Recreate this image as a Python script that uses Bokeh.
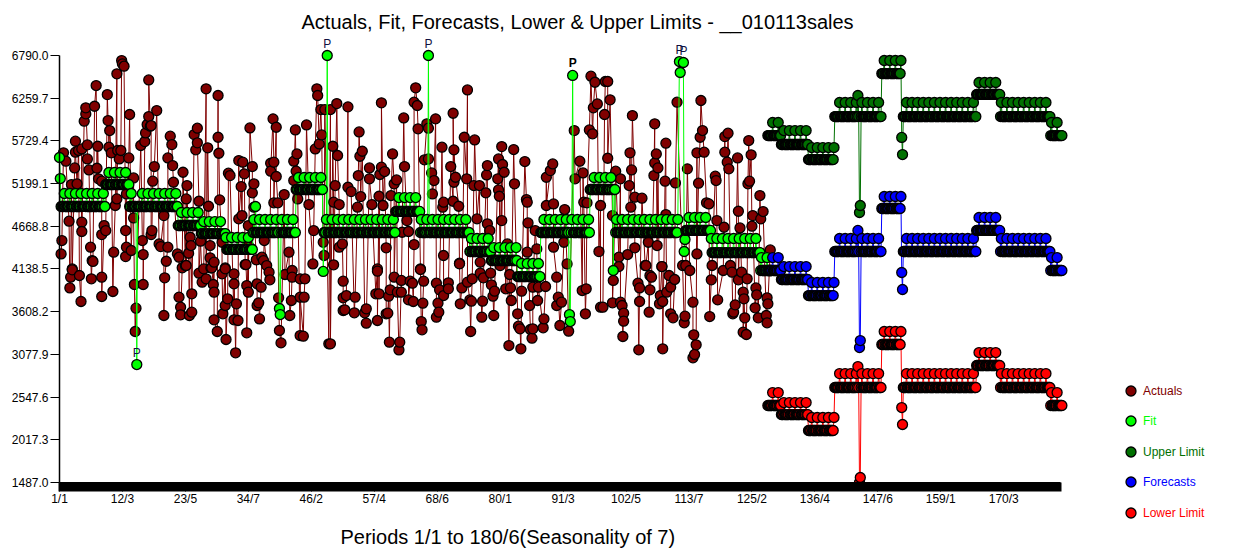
import numpy as np
from bokeh.plotting import figure
from bokeh.embed import file_html
from bokeh.resources import INLINE
from bokeh.models import Range1d, FixedTicker, Title, Legend, LegendItem, ColumnDataSource, NumeralTickFormatter
from bokeh.core.properties import value

title_text = "Actuals, Fit, Forecasts, Lower & Upper Limits - __010113sales"
xlabel_text = "Periods 1/1 to 180/6(Seasonality of 7)"
y_ticks = [1487.0, 2017.3, 2547.6, 3077.9, 3608.2, 4138.5, 4668.8, 5199.1, 5729.4, 6259.7, 6790.0]
x_tick_periods = [1, 80, 159, 238, 317, 396, 475, 554, 633, 712, 791, 870, 949, 1028, 1107, 1186]
x_tick_labels = ["1/1", "12/3", "23/5", "34/7", "46/2", "57/4", "68/6", "80/1", "91/3", "102/5", "113/7", "125/2", "136/4", "147/6", "159/1", "170/3"]
last_period = 1257

# Actuals as (period, value)
actual_readings = [
(4,4492),(3,4326),(6,5581),(9,5477),(16,5187),(23,5196),(20,5394),(21,5726),(21,5589),(13,4732),(17,4140),(25,5610),(29,5630),(32,5974),(34,6065),(34,6140),(36,5680),(36,5506),(38,5369),(29,4720),(29,4604),(40,4409),(42,4243),(45,6160),(47,6417),(49,5663),(48,5390),(50,5258),(54,5229),(57,4678),(59,4616),(54,4566),(62,5982),(64,5858),(61,6305),(63,5651),(66,5581),(69,4347),(73,6562),(73,5009),(71,4927),(74,5610),(79,6727),(80,6686),(82,6657),(78,5610),(76,5506),(84,4616),(85,4409),(84,4293),(85,5071),(88,5518),(89,6057),(91,4368),(94,5270),(94,4773),(103,5672),(105,4492),(106,4318),(108,5721),(109,5829),(111,5933),(113,6032),(115,5912),(113,6487),(116,5920),(117,4616),(116,4566),(120,5411),(118,5229),(123,6106),(126,4450),(128,4417),(132,4802),(135,4235),(137,4409),(137,5518),(140,5788),(142,5684),(143,5423),(144,5216),(156,5340),(161,5175),(160,5009),(149,4326),(151,4285),(165,4533),(166,4430),(163,4334),(159,4181),(170,5808),(174,5887),(174,5705),(172,5618),(187,5643),(185,6376),(176,4980),(188,4918),(178,4484),(190,4430),(190,4277),(195,4223),(191,4152),(200,6293),(200,5775),(201,5576),(202,4997),(205,4471),(209,4152),(213,5328),(215,5299),(226,5485),(231,5465),(233,5320),(229,5162),(230,4802),(226,4761),(240,5891),(243,5411),(245,5196),(243,5084),(245,4906),(238,4678),(234,4194),(238,4430),(248,4252),(255,4285),(257,4243),(261,4181),(258,4492),(269,6003),(273,5899),(266,5452),(270,5465),(266,5353),(273,5287),(270,4960),(275,4960),(289,4347),(283,5063),(297,5866),(299,5568),(295,5477),(298,5353),(295,5237),(300,5009),
(17,4128),(15,4037),(14,3904),(26,4058),(28,3735),(43,4232),(41,4016),(54,4037),(54,3797),(68,3859),(95,3946),(106,3946),(97,3652),(96,3362),(133,4029),(132,3561),(151,3789),(153,3664),(153,3569),(155,4153),(167,3830),(160,4182),(167,3602),(164,3561),(180,3975),(176,4087),(182,4140),(185,4016),(192,4153),(194,3946),(195,3851),(195,3507),(199,3362),(206,3582),(209,3685),(210,3263),(212,3768),(205,4078),(209,4140),(220,3507),(225,3499),(220,3954),(220,4078),(223,3706),(222,3097),(235,4194),(236,3933),(238,3851),(236,3346),(249,3954),(254,3913),(251,3718),(249,3685),(252,3519),(264,4099),(265,4004),(284,4070),(293,4120),(293,4037),(276,3780),(292,3747),(290,3561),(277,3375),(279,3221),(303,3312),(303,4016),(303,3789),
(311,5928),(324,6376),(325,6293),(322,5630),(327,5692),(330,5804),(329,6119),(334,6119),(341,6119),(349,6193),(363,6152),(344,5663),(350,5548),(347,5175),(345,4968),(352,4939),(314,4939),(320,4616),(332,4471),(333,4306),(319,4202),(345,4190),(356,4450),(352,4409),(377,5841),(381,5601),(378,5539),(376,5299),(363,5154),(367,5100),(379,5038),(375,4906),(390,5394),(390,5258),(393,4939),(402,5042),(407,4927),(405,5403),(409,5349),(403,5312),(405,6202),(419,5568),(424,5245),(421,5196),(417,5051),(433,6015),(434,5411),(437,4740),(439,4604),(431,4595),(446,4442),(411,4401),(400,4140),(448,6388),(446,6210),(450,6169),(451,5879),(462,5941),(464,5887),(473,6003),(459,5494),(464,5506),(468,5332),(471,5237),(469,5071),(481,5651),(492,5411),(483,4968),(482,4906),(495,4980),(502,4918),(498,5278),(496,5216),(495,6073),(496,5618),(509,5775),(522,5742),(513,6363),(512,5258),(483,4306),(503,4210),(454,4140),(521,5175),(528,5175),(536,5084),(525,4761),(538,5423),(537,5307),(552,5506),(557,5436),(559,5340),(551,5258),(552,5121),(553,5042),(556,5659),(571,5622),(572,5196),(585,5473),(587,5001),(588,4968),(556,4740),(538,4699),(541,4616),(589,4711),(588,4347),(600,4388),(598,4616),(529,4223),(563,4450),(554,4181),(612,5278),(617,5361),(620,5444),(612,4927),(621,4947),(621,4409),(635,4877),(634,4471),(638,4202),
(309,4016),(308,3789),(307,3304),(341,3209),(339,3209),(357,3987),(361,3809),(357,3780),(359,3631),(357,3623),(372,3789),(371,3594),(386,3644),(386,3466),(384,3594),(400,4112),(398,3830),(402,3830),(400,3499),(421,4037),(416,3880),(414,3801),(413,3590),(411,3582),(415,3230),(428,3230),(427,3134),(430,3996),(425,3851),(430,3851),(441,3987),(444,3962),(439,3755),(445,3735),(454,4132),(458,3987),(457,3714),(455,3486),(456,3383),(474,3962),(476,3714),(478,3880),(483,3809),(489,3967),(489,3892),(477,3602),(474,3540),(503,4203),(506,3904),(504,3706),(516,3755),(518,3739),(517,3362),(513,3975),(519,4016),(529,4087),(533,4029),(542,4087),(532,3739),(531,3540),(543,3942),(547,3863),(545,3801),(546,3561),(566,4070),(567,3904),(561,3892),(568,3747),(565,3188),(576,3582),(577,3428),(579,3395),(580,3147),(581,3863),(591,3685),(595,3395),(592,3387),(594,3279),(595,3913),(601,3747),(602,3913),(611,3921),(609,3519),(608,3408),(625,4037),(627,3789),(631,3727),(625,3685),(629,3437),
(647,5858),(654,5477),(658,5332),(648,5258),(668,6533),(673,6458),(686,6467),(689,6467),(692,6239),(676,6189),(671,6140),(685,6057),(666,5866),(670,5817),(689,5514),(699,5353),(705,5258),(659,4968),(663,4960),(680,4927),(720,6044),(717,5581),(719,5369),(716,5175),(723,5030),(732,5018),(748,5941),(762,5701),(750,5568),(748,5456),(752,5394),(747,5299),(761,5229),(774,5208),(776,6210),(789,5382),(806,6231),(808,5858),(805,5775),(801,5581),(810,5589),(803,5204),(824,5291),(825,5237),(813,4960),(816,4947),(826,4740),(835,4657),(840,5825),(836,5783),(836,5589),(839,5465),(841,5382),(852,5518),(866,5734),(869,5556),(867,5229),(865,5196),(880,5051),(853,4856),(871,4802),(884,4852),(881,4761),(870,4670),(855,4649),(678,4355),(703,4285),(714,4318),(723,4401),(740,4471),(751,4430),(737,4181),(757,4169),(801,4326),(695,4802),(718,4906),(762,4815),(893,4376),
(662,3892),(657,3871),(661,3582),(640,3366),(683,3664),(680,3664),(695,3718),(696,3996),(703,4169),(705,3727),(707,3685),(709,3590),(709,3491),(708,3300),(727,3962),(729,3904),(729,3735),(728,3134),(736,4182),(742,4058),(744,4037),(742,3880),(741,3602),(757,4169),(755,3809),(758,3735),(754,3706),(763,3851),(766,4058),(773,4008),(768,3913),(768,3582),(771,3532),(758,3147),(783,4182),(787,4182),(792,4120),(786,3553),(785,3470),(796,3727),(797,3321),(800,3197),(798,3077),(796,3035),(820,4182),(819,4004),(817,3548),(827,3755),(834,4120),(843,4182),(845,4099),(853,4004),(857,4099),(864,4016),(859,3851),(860,3768),(849,3693),(847,3602),(846,3582),(861,3532),(875,3904),(876,3818),(874,3656),(878,3532),(888,3561),(889,3470),(890,3706),(889,3780),(859,3354),(863,3325),
]

# Fit: runs of constant level (first period, last period, busy-day level, ordinary-day level)
fit_runs = [
(3,59,5076,4915),(59,89,5337,5188),(89,150,5076,4915),(150,179,4840,4679),(179,210,4728,4579),(210,244,4530,4381),
(244,298,4753,4592),(298,332,5275,5126),(332,423,4753,4592),(423,454,5026,4853),(454,516,4753,4592),(516,543,4517,4356),
(543,576,4405,4244),(576,605,4207,4045),(605,667,4753,4592),(667,699,5275,5126),(699,778,4753,4592),(787,819,4778,4617),
(819,881,4517,4343),(881,895,4281,4120),
]
fit_spikes = [(1,5523),(2,5262),(98,2952),(247,4915),(277,3648),(278,3573),(332,4108),(337,6790),(464,6790),(641,3573),(642,3486),(645,6542),(696,4120),(779,6715),(780,6579),(784,6703),(785,4356),(786,4505)]
fit_p_periods = [98, 337, 464, 779, 784]
fit_p_values = [2952, 6790, 6790, 6715, 6703]
fit_p_bold_periods = [645]
fit_p_bold_values = [6542]

# Forecast horizon runs: first period, last period
run_starts = [890, 907, 941, 974, 1033, 1058, 1152, 1182, 1245]
run_ends = [907, 941, 974, 1033, 1058, 1152, 1182, 1245, 1260]
upper_high = [5958, 5858, 5647, 6206, 6728, 6206, 6455, 6206, 5958]
upper_low = [5796, 5685, 5498, 6032, 6566, 6032, 6306, 6032, 5796]
forecast_high = [4281, 4169, 3971, 4517, 5039, 4517, 4778, 4517, 4281]
forecast_low = [4120, 4008, 3809, 4356, 4890, 4356, 4617, 4356, 4120]
lower_high = [2604, 2480, 2294, 2840, 3362, 2840, 3101, 2840, 2604]
lower_low = [2443, 2331, 2133, 2667, 3201, 2667, 2940, 2667, 2443]
spike_periods = [1003, 1005, 1006, 1058, 1059]
upper_spikes = [6293, 4840, 4927, 5772, 5560]
forecast_spikes = [4617, 3163, 3250, 4095, 3884]
lower_spikes = [2927, 1487, 1549, 2418, 2207]

colors = {"Actuals": "#800000", "Fit": "#00ff00", "Upper Limit": "#007000", "Forecasts": "#0000ff", "Lower Limit": "#ff0000"}
FONT = "Liberation Sans"


def expand(starts, ends, highs, lows, spike_p, spike_v):
    d = {}
    for s, e, h, l in zip(starts, ends, highs, lows):
        for t in range(s, e):
            d[t] = h if t % 7 == 0 else l
    for t, v in zip(spike_p, spike_v):
        d[t] = v
    ks = sorted(d)
    return ks, [d[k] for k in ks]


actual_sorted = sorted(actual_readings, key=lambda r: r[0])
ax = [r[0] for r in actual_sorted]
ay = [r[1] for r in actual_sorted]
fx, fy = expand([r[0] for r in fit_runs], [r[1] for r in fit_runs], [r[2] for r in fit_runs], [r[3] for r in fit_runs],
                [r[0] for r in fit_spikes], [r[1] for r in fit_spikes])
ux, uy = expand(run_starts, run_ends, upper_high, upper_low, spike_periods, upper_spikes)
cx, cy = expand(run_starts, run_ends, forecast_high, forecast_low, spike_periods, forecast_spikes)
lx, ly = expand(run_starts, run_ends, lower_high, lower_low, spike_periods, lower_spikes)

PX = 1.255
UY = 12.42
p = figure(width=1233, height=549, output_backend="svg", toolbar_location=None,
           x_range=Range1d(1 + (4 - 59) * PX, 1 + (1233 - 59) * PX),
           y_range=Range1d(1487 - (523 - 482) * UY, 6790 + (55 - 36) * UY),
           min_border_left=4, min_border_right=0, min_border_top=36, min_border_bottom=26,
           background_fill_color="white", border_fill_color="white")
p.grid.visible = False
p.outline_line_color = None

# axes
xa = p.xaxis[0]
xa.fixed_location = 1487.0
xa.bounds = (1, last_period)
xa.ticker = FixedTicker(ticks=x_tick_periods, minor_ticks=list(range(1, last_period + 1)))
xa.major_label_overrides = {k: v for k, v in zip(x_tick_periods, x_tick_labels)}
xa.major_tick_in = 0
xa.major_tick_out = 9
xa.minor_tick_in = 0
xa.minor_tick_out = 9
xa.minor_tick_line_color = "black"
xa.minor_tick_line_width = 2
xa.major_tick_line_color = "black"
xa.axis_line_color = "black"
xa.major_label_text_font = FONT
xa.major_label_text_font_size = "12px"
xa.major_label_text_color = "black"
xa.major_label_standoff = 1

ya = p.yaxis[0]
ya.fixed_location = 1
ya.bounds = (1487.0, 6790.0)
ya.ticker = FixedTicker(ticks=y_ticks)
ya.formatter = NumeralTickFormatter(format="0.0")
ya.major_tick_in = 0
ya.major_tick_out = 9
ya.minor_tick_line_color = None
ya.axis_line_color = "black"
ya.axis_line_width = 1.5
ya.major_tick_line_color = "black"
ya.major_label_text_font = FONT
ya.major_label_text_font_size = "12px"
ya.major_label_text_color = "black"
ya.major_label_standoff = 2

t = Title(text=title_text, align="left", offset=297, standoff=8, text_font=FONT, text_font_size="20px", text_font_style="normal", text_color="black")
p.add_layout(t, "above")
b = Title(text=xlabel_text, align="left", offset=336, standoff=0, text_font=FONT, text_font_size="20px", text_font_style="normal", text_color="black")
p.add_layout(b, "below")

renderers = {}
for name, xs, ys in [("Actuals", ax, ay), ("Fit", fx, fy), ("Upper Limit", ux, uy), ("Forecasts", cx, cy), ("Lower Limit", lx, ly)]:
    src = ColumnDataSource(dict(x=xs, y=ys))
    p.line("x", "y", source=src, line_color=colors[name], line_width=1)
    renderers[name] = p.scatter("x", "y", source=src, marker="circle", size=10, fill_color=colors[name], line_color="black", line_width=1.3)

p.text(fit_p_periods, fit_p_values, text=["P"] * len(fit_p_periods), text_font=value(FONT), text_font_size="12px",
       text_color="#101040", text_align="center", text_baseline="bottom", y_offset=-5)
p.text(fit_p_bold_periods, fit_p_bold_values, text=["P"], text_font=value(FONT), text_font_size="12px", text_font_style="bold",
       text_color="black", text_align="center", text_baseline="bottom", y_offset=-5)

legend_bottoms = {"Actuals": 120, "Fit": 90, "Upper Limit": 59, "Forecasts": 29, "Lower Limit": -2}
for name, yloc in legend_bottoms.items():
    lg = Legend(items=[LegendItem(label=name, renderers=[renderers[name]])], location=(1114, yloc),
                padding=0, margin=0, spacing=0, label_standoff=0, glyph_width=25, glyph_height=25,
                background_fill_alpha=0, border_line_color=None, label_text_color=colors[name],
                label_text_font=FONT, label_text_font_size="12px", label_height=25)
    p.add_layout(lg, "center")

open("out.html", "w").write(file_html(p, INLINE))
